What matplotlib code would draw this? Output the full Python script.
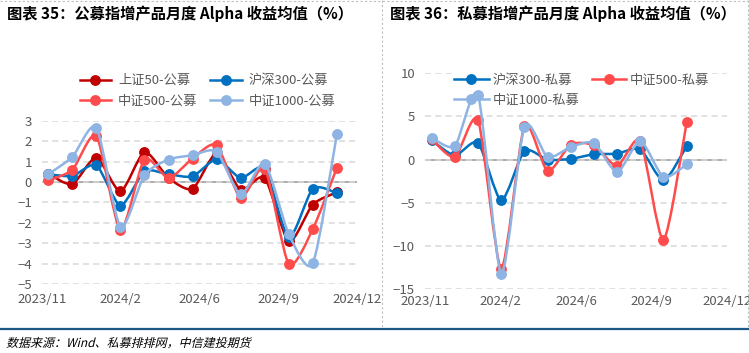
import numpy as np
import matplotlib.pyplot as plt
from matplotlib.path import Path
from matplotlib.patches import PathPatch
from matplotlib.lines import Line2D
from matplotlib.textpath import TextPath
from matplotlib.font_manager import FontProperties
from matplotlib.transforms import Affine2D

plt.rcParams['font.family'] = ['Noto Sans CJK SC', 'DejaVu Sans']

# ---- data ----
date_labels = ['2023/11', '2024/2', '2024/6', '2024/9', '2024/12']

pub_names = ['上证50-公募', '沪深300-公募', '中证500-公募', '中证1000-公募']
sz50_pub = [0.40, -0.10, 1.20, -0.46, 1.46, 0.20, -0.33, 1.40, -0.38, 0.20, -2.90, -1.10, -0.50]
hs300_pub = [0.38, 0.30, 0.82, -1.15, 0.52, 0.38, 0.28, 1.11, 0.20, 0.65, -2.70, -0.33, -0.54]
zz500_pub = [0.08, 0.60, 2.25, -2.33, 1.10, 0.20, 1.15, 1.80, -0.77, 0.66, -4.00, -2.30, 0.70]
zz1000_pub = [0.38, 1.23, 2.66, -2.18, 0.33, 1.10, 1.31, 1.48, -0.60, 0.90, -2.54, -3.98, 2.33]

priv_names = ['沪深300-私募', '中证500-私募', '中证1000-私募']
hs300_priv = [2.24, 0.50, 1.93, -4.70, 1.00, 0.00, 0.10, 0.62, 0.70, 1.20, -2.40, 1.55]
zz500_priv = [2.35, 0.30, 4.55, -12.60, 3.86, -1.30, 1.74, 1.66, -0.73, 2.16, -9.27, 4.32]
zz1000_priv = [2.55, 1.58, 7.45, -13.20, 3.80, 0.30, 1.47, 1.93, -1.43, 2.16, -2.00, -0.54]

source_text = '数据来源：Wind、私募排排网，中信建投期货'

c_dred = '#C00000'
c_blue = '#0070C0'
c_red = '#FF4B4B'
c_lblue = '#8EB4E3'
txt_gray = '#595959'


def smooth_path(x, y, t=0.12):
    # excel-like smoothed line: catmull-rom style cubic bezier segments
    pts = np.column_stack([x, y]).astype(float)
    n = len(pts)
    verts = [pts[0]]
    codes = [Path.MOVETO]
    for i in range(n - 1):
        p0 = pts[max(i - 1, 0)]
        p1 = pts[i]
        p2 = pts[i + 1]
        p3 = pts[min(i + 2, n - 1)]
        verts += [p1 + (p2 - p0) * t, p2 - (p3 - p1) * t, p2]
        codes += [Path.CURVE4] * 3
    return Path(verts, codes)


def draw_series(ax, values, color, z):
    x = np.arange(len(values))
    ax.add_patch(PathPatch(smooth_path(x, values), facecolor='none', edgecolor=color,
                           lw=1.8, zorder=z, capstyle='round', joinstyle='round'))
    ax.plot(x, values, 'o', color=color, ms=6.8, zorder=z + 0.5)


def style_axes(ax, ylim, yticks, xlim, xpad):
    ax.set_xlim(xlim)
    ax.set_ylim(ylim)
    ax.set_yticks(yticks)
    ax.set_xticks(np.linspace(xlim[0], xlim[1], len(date_labels)))
    ax.set_xticklabels(date_labels)
    for s in ax.spines.values():
        s.set_visible(False)
    ax.tick_params(length=0, labelsize=9.5, colors=txt_gray)
    ax.tick_params(axis='y', pad=7.2)
    ax.tick_params(axis='x', pad=xpad)
    ax.grid(axis='y', color='#D9D9D9', lw=1.1, ls=(0, (4, 2.7)), zorder=0)
    ax.axhline(0, color='#A6A6A6', lw=1.3, zorder=1)


fig = plt.figure(figsize=(7.49, 3.53), dpi=100)

# left chart
ax1 = fig.add_axes([0.0561, 0.1946, 0.4206, 0.4635])
pub_series = [sz50_pub, hs300_pub, zz500_pub, zz1000_pub]
pub_colors = [c_dred, c_blue, c_red, c_lblue]
for i, (vals, col) in enumerate(zip(pub_series, pub_colors)):
    draw_series(ax1, vals, col, 2 + i)
style_axes(ax1, (-5, 3), range(-5, 4), (-0.26, 12.84), 6.5)

# legend fills column by column, so reorder to get the reference's row order
h1 = [Line2D([], [], color=c, lw=1.8, marker='o', ms=6.8) for c in pub_colors]
order1 = [0, 2, 1, 3]
ax1.legend([h1[k] for k in order1], [pub_names[k] for k in order1], ncol=2, loc='upper left',
           bbox_to_anchor=(73 / 749, 1 - 67.6 / 353), bbox_transform=fig.transFigure,
           frameon=False, borderpad=0, fontsize=9.5, handlelength=2.4,
           handletextpad=0.5, columnspacing=1.0, labelspacing=0.55,
           labelcolor=txt_gray)

# right chart
ax2 = fig.add_axes([0.5674, 0.1805, 0.4032, 0.6119])
priv_series = [hs300_priv, zz500_priv, zz1000_priv]
priv_colors = [c_blue, c_red, c_lblue]
for i, (vals, col) in enumerate(zip(priv_series, priv_colors)):
    draw_series(ax2, vals, col, 2 + i)
style_axes(ax2, (-15, 10), range(-15, 11, 5), (-0.29, 12.74), 4)

h2 = [Line2D([], [], color=c, lw=1.8, marker='o', ms=6.8) for c in priv_colors]
order2 = [0, 2, 1]
leg2 = ax2.legend([h2[k] for k in order2], [priv_names[k] for k in order2], ncol=2,
                  loc='upper left',
                  bbox_to_anchor=(445 / 749, 1 - 64.5 / 353), bbox_transform=fig.transFigure,
                  frameon=True, facecolor='white', edgecolor='none', framealpha=1,
                  fancybox=False, borderpad=0.2, fontsize=9.5, handlelength=2.6,
                  handletextpad=0.3, columnspacing=0.95, labelspacing=0.55,
                  labelcolor=txt_gray)
leg2.set_zorder(1.5)

# titles and page decorations
fig.text(7 / 749, 1 - 14 / 353, '图表 35：公募指增产品月度 Alpha 收益均值（%）',
         fontsize=11, fontweight='bold', va='center', ha='left')
fig.text(390 / 749, 1 - 14 / 353, '图表 36：私募指增产品月度 Alpha 收益均值（%）',
         fontsize=11, fontweight='bold', va='center', ha='left')

# italic source note: CJK font has no italic, so slant the glyph outlines
tp = TextPath((0, 0), source_text, size=12, prop=FontProperties(family='Noto Sans CJK SC'))
slant = Affine2D().skew_deg(14, 0).translate(6, 353 - 347)
fig.add_artist(PathPatch(tp, transform=slant, facecolor='black', edgecolor='none'))

dash_kw = dict(color='#BFBFBF', lw=0.8, ls=(0, (2, 2)), transform=fig.transFigure)
fig.add_artist(Line2D([0, 1], [1 - 0.5 / 353] * 2, **dash_kw))
fig.add_artist(Line2D([382 / 749] * 2, [1, 1 - 327 / 353], **dash_kw))
fig.add_artist(Line2D([747.5 / 749] * 2, [1, 1 - 327 / 353], **dash_kw))
fig.add_artist(Line2D([0, 1], [1 - 329 / 353] * 2, color='#1B5886', lw=1.6,
                      transform=fig.transFigure))

fig.savefig('out.png', dpi=100)
